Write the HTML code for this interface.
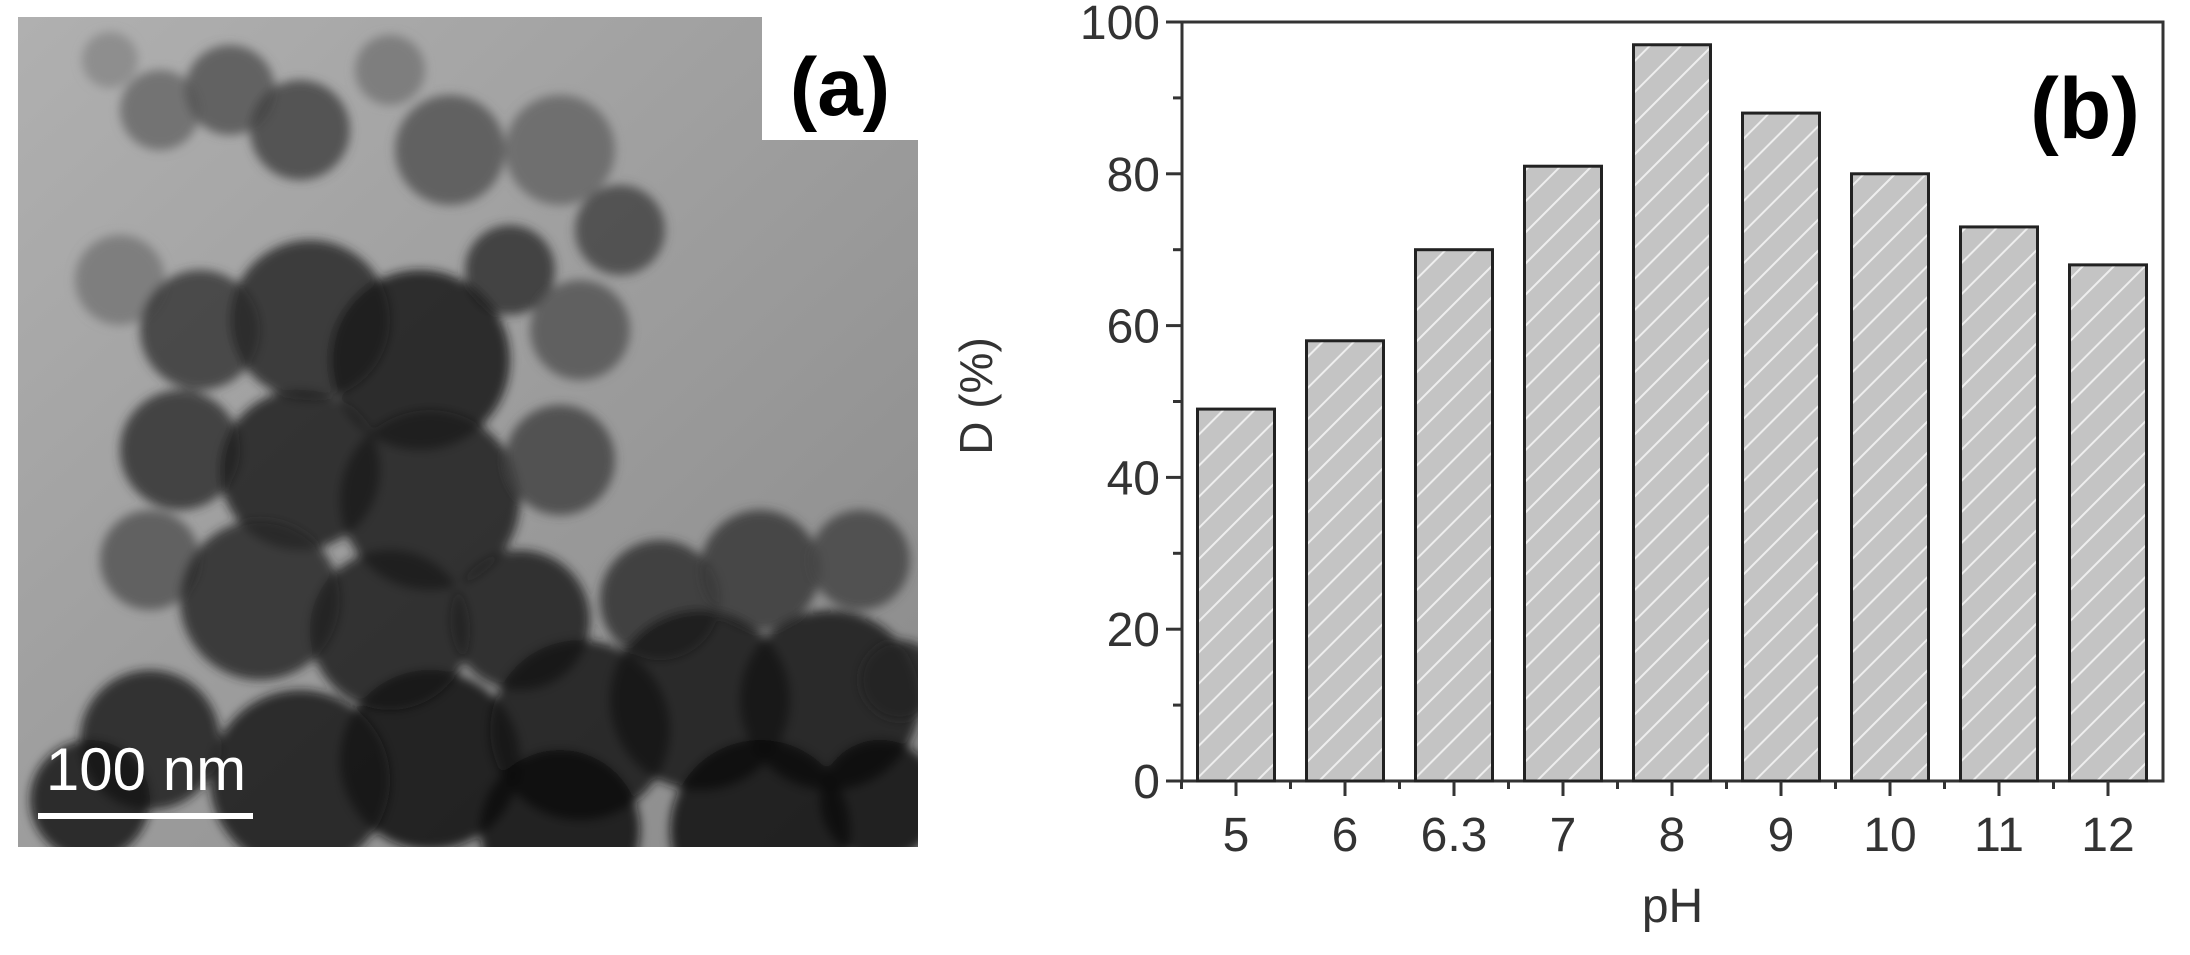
<!DOCTYPE html>
<html><head><meta charset="utf-8"><style>
html,body{margin:0;padding:0;background:#fff;}
svg{display:block;font-family:"Liberation Sans",Arial,sans-serif;}
</style></head><body>
<svg id="fig" width="2190" height="955" viewBox="0 0 2190 955">
<defs>
<linearGradient id="bg" x1="0" y1="0" x2="1" y2="1"><stop offset="0" stop-color="#b0b0b0"/><stop offset="1" stop-color="#8a8a8a"/></linearGradient>
<pattern id="hatch" width="22" height="22" patternUnits="userSpaceOnUse" patternTransform="rotate(-45)">
<rect width="22" height="22" fill="#c4c4c4"/><line x1="0" y1="11" x2="22" y2="11" stroke="#eee" stroke-width="2"/></pattern>
<filter id="blur"><feGaussianBlur stdDeviation="5"/></filter>
<clipPath id="imgclip"><rect x="18" y="17" width="900" height="830"/></clipPath>
</defs>
<g>
<rect x="18" y="17" width="900" height="830" fill="url(#bg)"/>
<g clip-path="url(#imgclip)"><g id="blobs" filter="url(#blur)"></g></g>
<rect x="762" y="17" width="156" height="123" fill="#fff"/>
<text x="840" y="115" font-size="82" font-weight="bold" text-anchor="middle">(a)</text>
<text x="146" y="790" font-size="60" fill="#fff" text-anchor="middle">100 nm</text>
<rect x="38" y="813" width="215" height="6" fill="#fff"/>
</g>
<g id="chart"></g>
</svg>
<script>
const categories=["5","6","6.3","7","8","9","10","11","12"];
const values=[49,58,70,81,97,88,80,73,68];
const yTicks=[0,20,40,60,80,100];
const NS="http://www.w3.org/2000/svg";
const X0=1182,X1=2163,Y0=781,Y1=22;
const step=109,first=1236,bw=77;
const xPos=i=>first+i*step;
const yPos=v=>Y0-(v/100)*(Y0-Y1);
const chart=document.getElementById('chart');
function mk(t,a,p){const e=document.createElementNS(NS,t);for(const k in a)e.setAttribute(k,a[k]);(p||chart).appendChild(e);return e;}
const blobs=document.getElementById('blobs');
const B=[[110,60,28,"#888"],[160,110,40,"#6a6a6a"],[230,90,45,"#555"],[300,130,50,"#444"],[390,70,35,"#777"],[450,150,55,"#555"],[560,150,55,"#666"],[620,230,45,"#444"],[510,270,45,"#333"],[580,330,50,"#555"],[120,280,45,"#777"],[200,330,60,"#3a3a3a"],[310,320,80,"#2a2a2a"],[420,360,90,"#1a1a1a"],[180,450,60,"#333"],[300,470,80,"#222"],[430,500,90,"#1c1c1c"],[560,460,55,"#444"],[150,560,50,"#555"],[260,600,80,"#2a2a2a"],[390,630,80,"#1e1e1e"],[520,620,70,"#222"],[660,600,60,"#333"],[760,570,60,"#3a3a3a"],[860,560,50,"#444"],[700,700,90,"#1a1a1a"],[830,700,90,"#151515"],[580,730,90,"#181818"],[430,760,90,"#121212"],[300,780,90,"#1a1a1a"],[150,740,70,"#222"],[90,800,60,"#151515"],[560,830,80,"#101010"],[760,830,90,"#0f0f0f"],[880,800,60,"#111"],[900,680,40,"#222"]];
for(const b of B){const c=mk('circle',{cx:b[0],cy:b[1],r:b[2],fill:b[3],'fill-opacity':0.85},blobs);

}
const fr=mk('rect',{x:X0,y:Y1,width:X1-X0,height:Y0-Y1,fill:'none',stroke:'#333','stroke-width':3});


values.forEach((v,i)=>{const r=mk('rect',{x:xPos(i)-bw/2,y:yPos(v),width:bw,height:Y0-yPos(v),fill:'url(#hatch)',stroke:'#222','stroke-width':3});

});
for(let v=0;v<=100;v+=10){const major=v%20===0;mk('line',{x1:X0-(major?16:9),x2:X0,y1:yPos(v),y2:yPos(v),stroke:'#333','stroke-width':3});}
yTicks.forEach(v=>{const t=mk('text',{x:X0-22,y:yPos(v)+17,'font-size':48,fill:'#333','text-anchor':'end'});t.textContent=v;

});
categories.forEach((c,i)=>{mk('line',{x1:xPos(i),x2:xPos(i),y1:Y0,y2:Y0+15,stroke:'#333','stroke-width':3});
mk('line',{x1:xPos(i)-step/2,x2:xPos(i)-step/2,y1:Y0,y2:Y0+8,stroke:'#333','stroke-width':3});
const t=mk('text',{x:xPos(i),y:851,'font-size':48,fill:'#333','text-anchor':'middle'});t.textContent=c;

});
const xl=mk('text',{x:(X0+X1)/2,y:922,'font-size':48,fill:'#333','text-anchor':'middle'});xl.textContent='pH';


const yl=mk('text',{x:0,y:0,'font-size':46,fill:'#333','text-anchor':'middle',transform:'translate(992,396) rotate(-90)'});yl.textContent='D (%)';


const pb=mk('text',{x:2085,y:138,'font-size':86,'font-weight':'bold','text-anchor':'middle',fill:'#000'});pb.textContent='(b)';


</script>
</body></html>
